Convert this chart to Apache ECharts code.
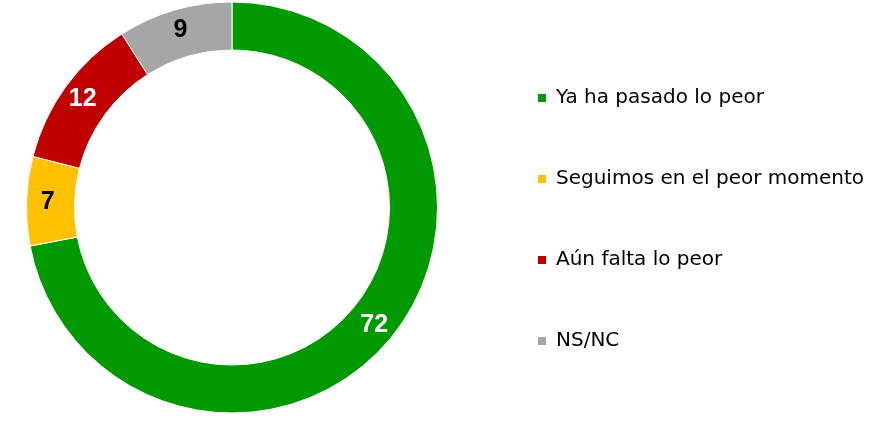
<!DOCTYPE html>
<html><head><meta charset="utf-8">
<script src="https://cdn.jsdelivr.net/npm/echarts@6/dist/echarts.min.js"></script>
<style>html,body{margin:0;padding:0;background:#fff}#c{width:883px;height:425px}</style>
</head><body><div id="c"></div>
<script>
const categories = ["Ya ha pasado lo peor", "Seguimos en el peor momento", "Aún falta lo peor", "NS/NC"];
const values = [72, 7, 12, 9];
const colors = ["#009900", "#FFC000", "#C00000", "#A6A6A6"];
const labelColors = ["#ffffff", "#000000", "#ffffff", "#000000"];

const chart = echarts.init(document.getElementById('c'));
chart.setOption({
  animation: false,
  color: colors,
  legend: {
    orient: 'vertical',
    left: 536, top: 87,
    padding: 0,
    itemWidth: 10, itemHeight: 10,
    itemGap: 59,
    icon: 'rect',
    data: categories,
    textStyle: { fontFamily: 'DejaVu Sans', fontSize: 20, color: '#000', lineHeight: 22, padding: [0,0,0,4] }
  },
  series: [{
    type: 'pie',
    center: [232, 207.5],
    radius: [157.5, 205.5],
    startAngle: 90,
    clockwise: true,
    avoidLabelOverlap: false,
    itemStyle: { borderColor: '#fff', borderWidth: 1 },
    label: {
      position: 'inside',
      fontFamily: 'Liberation Sans', fontSize: 25, fontWeight: 'bold',
      formatter: p => p.value
    },
    labelLine: { show: false },
    data: categories.map((n, i) => ({ name: n, value: values[i], label: { color: labelColors[i] } }))
  }]
});
</script></body></html>
